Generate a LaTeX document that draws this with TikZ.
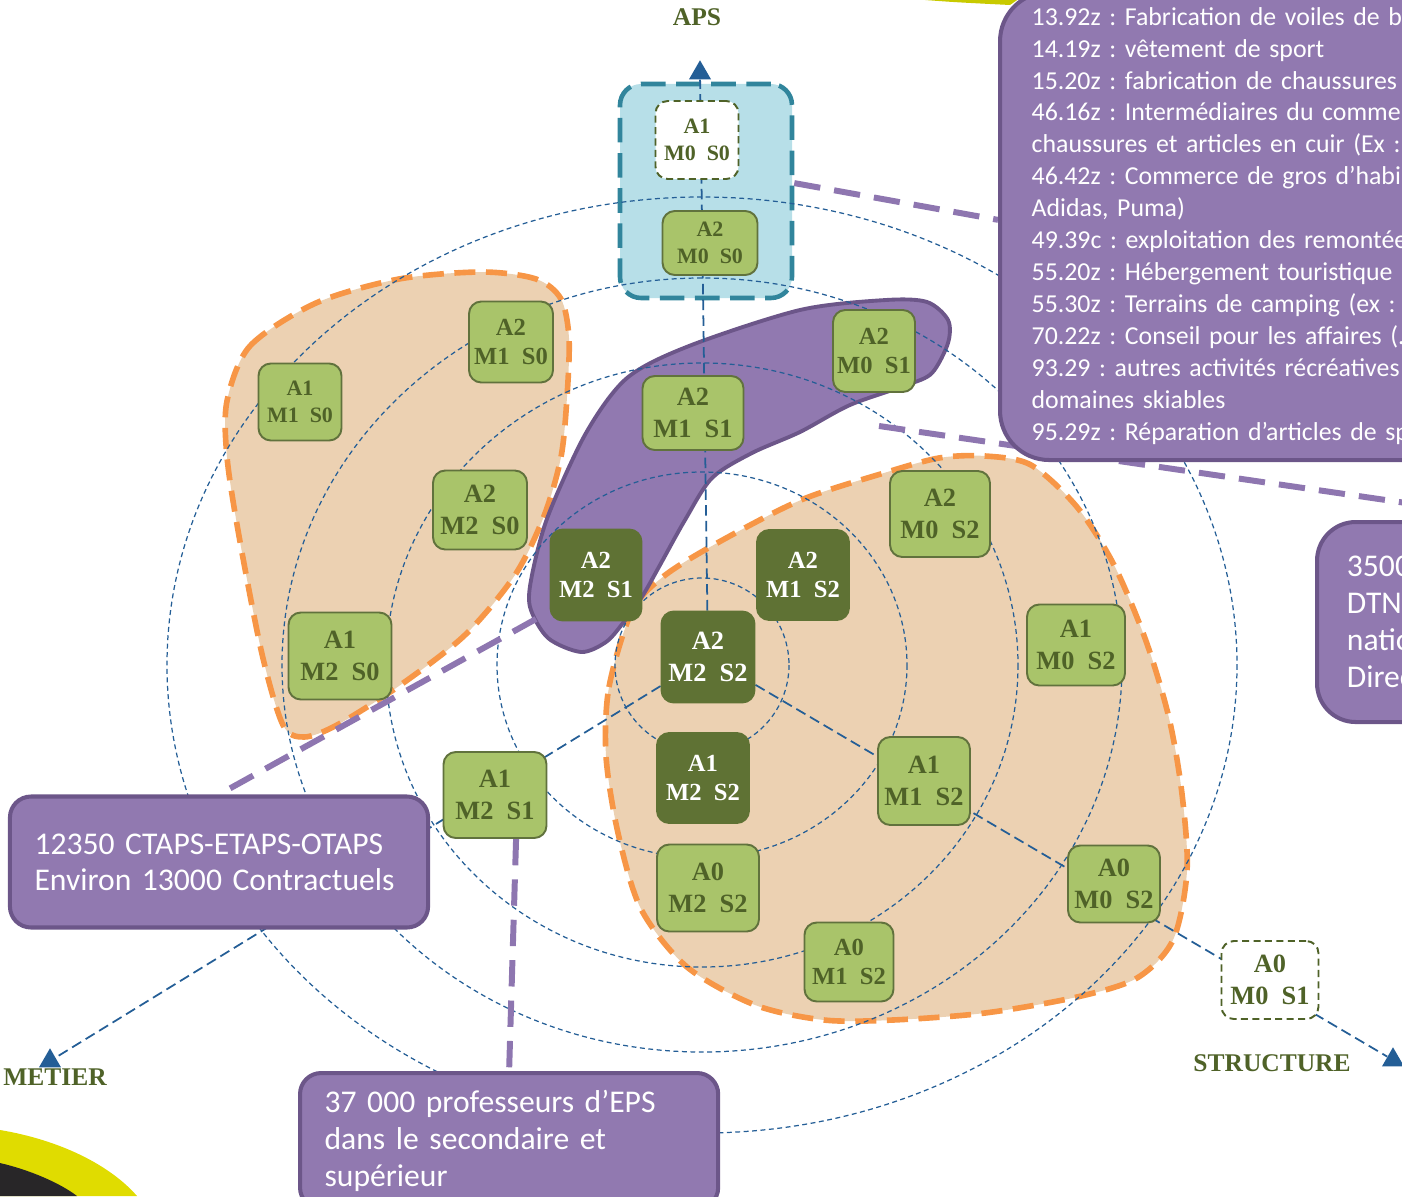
\documentclass[tikz,border=0pt]{standalone}
\usepackage{fontspec}
\setmainfont{Carlito}
\newfontfamily\cellfont{Liberation Serif}
\usetikzlibrary{shapes.geometric,backgrounds}
\frenchspacing

\definecolor{litgreen}{RGB}{169,196,106}
\definecolor{drkgreen}{RGB}{95,114,52}
\definecolor{celltext}{RGB}{79,98,40}
\definecolor{peach}{RGB}{236,209,178}
\definecolor{orng}{RGB}{247,150,70}
\definecolor{purp}{RGB}{145,121,176}
\definecolor{purpline}{RGB}{108,86,137}
\definecolor{purplink}{RGB}{142,118,176}
\definecolor{skyfill}{RGB}{183,223,232}
\definecolor{grpline}{RGB}{49,133,156}
\definecolor{axblue}{RGB}{36,94,150}
\definecolor{ylw}{RGB}{224,220,0}
\definecolor{ylwtop}{RGB}{200,202,0}
\definecolor{blk}{RGB}{40,38,40}

\tikzset{
	cell/.style={rounded corners=7pt, line width=1.1pt, align=center, inner sep=0pt},
	lit/.style={fill=litgreen, draw=celltext!90, text=celltext},
	drk/.style={fill=drkgreen, draw=drkgreen, text=white},
	emp/.style={fill=white, draw=celltext, dash pattern=on 4pt off 2.5pt, text=celltext},
	sm/.style={font=\cellfont\bfseries\fontsize{12.5pt}{15pt}\selectfont},
	md/.style={font=\cellfont\bfseries\fontsize{14pt}{16.5pt}\selectfont},
	bg/.style={font=\cellfont\bfseries\fontsize{15pt}{18.5pt}\selectfont},
	blob/.style={fill=peach, draw=orng, line width=3.2pt, dash pattern=on 12pt off 6pt},
	band/.style={fill=purp, draw=purpline, line width=2.2pt},
	grpbox/.style={fill=skyfill, draw=grpline, line width=2.6pt, dash pattern=on 14pt off 6pt, rounded corners=12pt, inner sep=0pt},
	ring/.style={draw=axblue, line width=0.7pt, dash pattern=on 2.8pt off 2pt},
	axis/.style={draw=axblue, line width=1pt, dash pattern=on 6pt off 3pt},
	link/.style={draw=purplink, line width=3.4pt, dash pattern=on 15pt off 8pt},
	txtbox/.style={fill=purp, draw=purpline, line width=2.3pt, text=white, align=left},
	tip/.style={regular polygon, regular polygon sides=3, fill=axblue, inner sep=0pt, minimum size=14.5pt},
	axlabel/.style={font=\cellfont\bfseries\fontsize{14.5pt}{16pt}\selectfont, text=celltext}
}

\begin{document}
\begin{tikzpicture}[x=0.02cm,y=-0.02cm]
\useasboundingbox (0,0) rectangle (1402,1196);

\fill[ylw] (0,1130) .. controls (60,1140) and (110,1165) .. (137,1196) -- (0,1196) -- cycle;
\fill[blk] (0,1163) .. controls (30,1170) and (60,1183) .. (77,1196) -- (0,1196) -- cycle;
\fill[ylwtop] (900,-2) .. controls (950,2) .. (1010,5) -- (1020,-2) -- cycle;

\foreach \n/\x/\y/\w/\h/\k/\z/\t in {
	a1m0s0/697/140/83/78/emp/sm/{A1\\M0~~S0},
	a2m0s0/710/243/95/64/lit/sm/{A2\\M0~~S0},
	a2m0s1/874/351/82/82/lit/md/{A2\\M0~~S1},
	a2m1s1/693/413/101/74/lit/bg/{A2\\M1~~S1},
	a2m1s0/511/342/84/81/lit/md/{A2\\M1~~S0},
	a1m1s0/300/402/83/77/lit/sm/{A1\\M1~~S0},
	a2m2s0/480/510/94/79/lit/bg/{A2\\M2~~S0},
	a1m2s0/340/656/103/87/lit/bg/{A1\\M2~~S0},
	a2m2s1/596/575/91/91/drk/md/{A2\\M2~~S1},
	a2m1s2/803/575/92/90/drk/md/{A2\\M1~~S2},
	a2m2s2/708/657/93/91/drk/bg/{A2\\M2~~S2},
	a1m2s2/703/778/92/90/drk/md/{A1\\M2~~S2},
	a2m0s2/940/514/100/86/lit/bg/{A2\\M0~~S2},
	a1m0s2/1076/645/98/81/lit/bg/{A1\\M0~~S2},
	a1m1s2/924/781/92/88/lit/bg/{A1\\M1~~S2},
	a0m0s2/1114/884/92/77/lit/bg/{A0\\M0~~S2},
	a0m2s2/708/888/102/87/lit/bg/{A0\\M2~~S2},
	a0m1s2/849/962/89/79/lit/md/{A0\\M1~~S2},
	a1m2s1/495/795/103/86/lit/bg/{A1\\M2~~S1},
	a0m0s1/1270/980/97/78/emp/bg/{A0\\M0~~S1}}{
	\node[cell,\k,\z,minimum width=\w*0.02cm,minimum height=\h*0.02cm] (\n) at (\x,\y) {\t};
}

\node[txtbox, anchor=north west, rounded corners=28pt, text width=330pt, inner xsep=18pt, inner ysep=0pt, minimum height=468*0.02cm, font=\fontsize{14.7pt}{18.2pt}\selectfont] (naf) at (998,-10) {13.92z : Fabrication de voiles de ba\\14.19z : vêtement de sport\\15.20z : fabrication de chaussures\\46.16z : Intermédiaires du comme\\chaussures et articles en cuir (Ex :\\46.42z : Commerce de gros d’habil\\Adidas, Puma)\\49.39c : exploitation des remontée\\55.20z : Hébergement touristique\\55.30z : Terrains de camping (ex : S\\70.22z : Conseil pour les affaires (..\\93.29 : autres activités récréatives\\domaines skiables\\95.29z : Réparation d’articles de sp};
\node[txtbox, anchor=north west, rounded corners=22pt, text width=200pt, inner xsep=17pt, inner ysep=0pt, minimum height=200*0.02cm, font=\fontsize{18pt}{21pt}\selectfont] (dtn) at (1315,520) {3500\\DTN\\natio\\Direc};
\node[txtbox, rounded corners=12pt, text width=210pt, inner xsep=14pt, inner ysep=0pt, minimum height=131*0.02cm, font=\fontsize{18pt}{20.5pt}\selectfont] (cta) at (219,862) {12350 CTAPS-ETAPS-OTAPS\\Environ 13000 Contractuels};
\node[txtbox, anchor=north west, rounded corners=12pt, text width=210pt, inner xsep=14pt, inner ysep=9.5pt, font=\fontsize{18pt}{21.3pt}\selectfont] (prof) at (298,1071) {37 000 professeurs d’EPS\\dans le secondaire et\\supérieur};

\node[axlabel] (aps) at (697,17) {APS};
\node[axlabel] (metier) at (55,1077) {METIER};
\node[axlabel] (structure) at (1272,1063) {STRUCTURE};
\node[tip] (apstip) at (700,73) {};
\node[tip] (mettip) at (50,1061) {};
\node[tip] (strtip) at (1393,1060) {};

\coordinate (o) at (702,665);
\coordinate (bandr) at (879,426);
\coordinate (bandl) at (536,619);

\begin{scope}[on background layer]
	\node[grpbox, minimum width=172*0.02cm, minimum height=214*0.02cm] (apsgrp) at (706,191) {};
	\draw[blob] plot[smooth cycle] coordinates {(227,401) (250,346) (316,303) (399,279) (482,272) (536,279) (561,299) (569,338) (567,397) (561,457) (544,516) (515,575) (465,635) (399,686) (337,725) (304,737) (283,725) (262,654) (239,536) (227,457)};
	\draw[blob] plot[smooth cycle] coordinates {(606,756) (609,687) (632,611) (664,576) (719,542) (801,500) (884,473) (939,458) (985,456) (1031,465) (1077,507) (1114,565) (1146,641) (1169,718) (1182,794) (1187,871) (1173,940) (1137,978) (1077,997) (985,1013) (893,1020) (824,1020) (755,1005) (687,967) (641,909) (618,833)};
	\draw[band] plot[smooth cycle] coordinates {(886,300) (927,302) (948,320) (948,343) (932,373) (907,385) (850,405) (800,432) (752,453) (712,478) (685,520) (660,565) (643,595) (623,623) (606,642) (581,652) (548,638) (530,607) (532,575) (548,516) (586,433) (627,378) (689,346) (800,310)};

	\foreach \rx/\ry in {87/87,205/193,316/302,420/387,535/468}{
		\draw[ring] (o) ellipse [x radius=\rx, y radius=\ry];
	}

	\draw[axis] (a2m2s2) -- (apstip);
	\draw[axis] (a2m2s2) -- (mettip);
	\draw[axis] (a2m2s2) -- (strtip);

	\draw[link] ([yshift=4.5pt]apsgrp.east) -- ([yshift=3.5pt]naf.west);
	\draw[link] (bandr) -- (dtn.north);
	\draw[link] (bandl) -- (cta.north);
	\draw[link] ([xshift=12pt]a1m2s1.south) -- (prof.north);
\end{scope}
\end{tikzpicture}
\end{document}
